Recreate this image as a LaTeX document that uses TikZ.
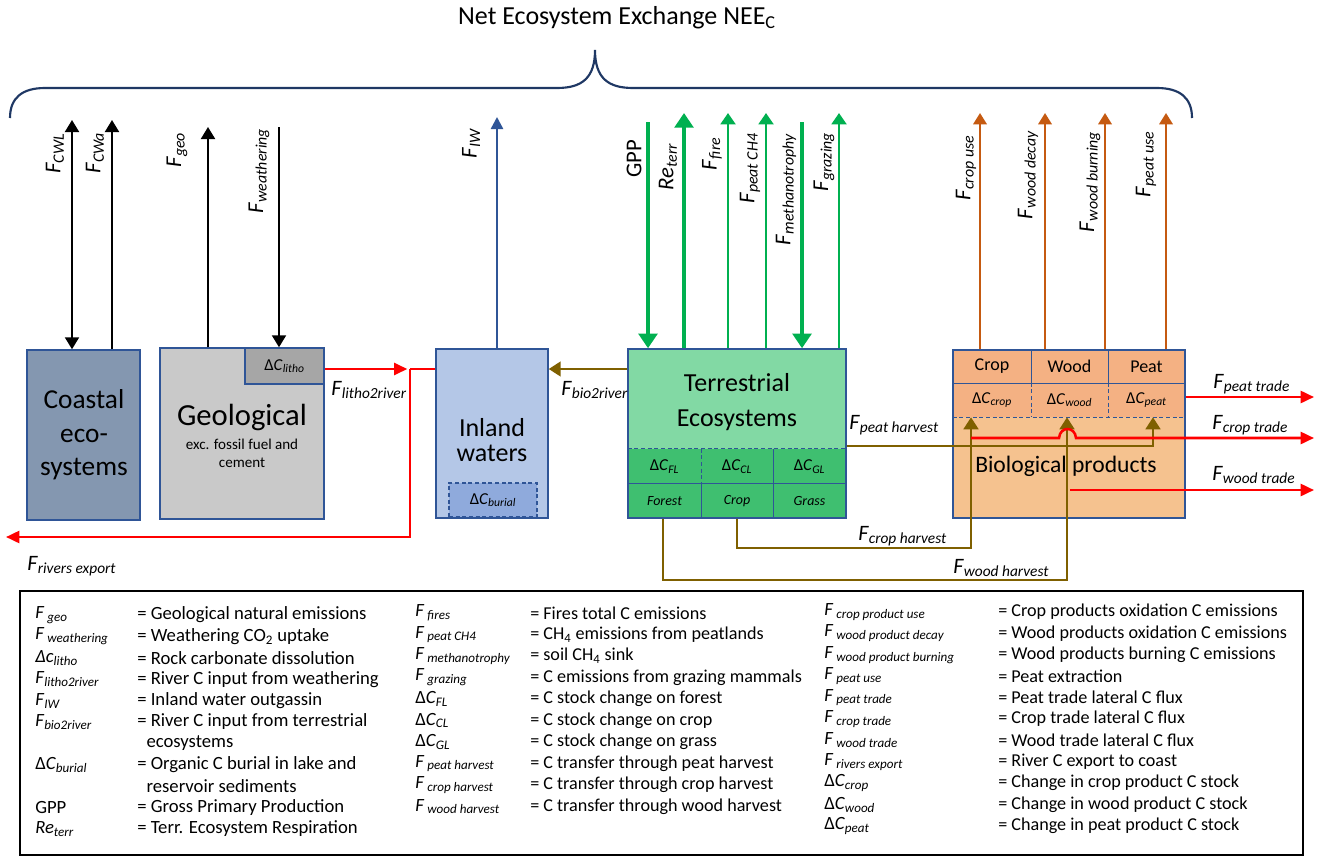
\documentclass[tikz,border=0pt]{standalone}
\usepackage{fontspec}
\setmainfont{Carlito}
\usetikzlibrary{arrows.meta,fit}
\definecolor{navy}{HTML}{1F3864}
\definecolor{bdr}{HTML}{2F5597}
\definecolor{coastc}{HTML}{8497B0}
\definecolor{geoc}{HTML}{C9C9C9}
\definecolor{lithoc}{HTML}{A6A6A6}
\definecolor{inlandc}{HTML}{B4C7E7}
\definecolor{burialc}{HTML}{8FAADC}
\definecolor{terrA}{HTML}{82D9A4}
\definecolor{terrB}{HTML}{3FBF70}
\definecolor{bioA}{HTML}{F4B183}
\definecolor{bioB}{HTML}{F5C28F}
\definecolor{grn}{HTML}{00B050}
\definecolor{orng}{HTML}{C55A11}
\definecolor{rd}{HTML}{FF0000}
\definecolor{brn}{HTML}{7F6000}
\newcommand\Fs[1]{\textit{F}\textsubscript{\textit{#1}}}
\newcommand\Fsp[1]{\textit{F}\,\textsubscript{\textit{#1}}}
\newcommand\Ds[1]{Δ\textit{C}\textsubscript{\textit{#1}}}
\newcommand\fsz[2]{\fontsize{#1}{#2}\selectfont}
\tikzset{
  box/.style={draw=bdr, line width=1.1pt, inner sep=0pt},
  cellf/.style={inner sep=0pt},
  ctxt/.style={inner sep=0pt, font=\fsz{12.5}{15}},
  bline/.style={draw=bdr, line width=1.1pt},
  bdash/.style={draw=bdr, line width=1.1pt, dash pattern=on 3pt off 2pt},
  rot/.style={rotate=90, anchor=east, inner sep=0pt, font=\fsz{17}{20}},
  flab/.style={anchor=west, inner sep=0pt, font=\fsz{16.5}{20}},
  blk/.style={black, line width=1.5pt},
  blktip/.style={-{Triangle[width=10.5pt,length=9pt]}},
  gthick/.style={grn, line width=3.5pt, -{Triangle[width=14pt,length=11pt]}},
  gthin/.style={grn, line width=2.2pt, -{Triangle[width=11pt,length=8.5pt]}},
  oarr/.style={orng, line width=1.8pt, -{Triangle[width=10pt,length=8.5pt]}},
  barr/.style={bdr, line width=1.8pt, -{Triangle[width=9pt,length=9pt]}},
  rline/.style={rd, line width=1.9pt},
  rtip/.style={-{Triangle[width=9pt,length=10pt]}},
  brline/.style={brn, line width=1.9pt},
  brtip/.style={-{Triangle[width=11pt,length=9pt]}},
  lsym/.style={anchor=west, inner sep=0pt, font=\fsz{14}{16}},
  ldesc/.style={anchor=west, inner sep=0pt, font=\fsz{14}{16}},
  ldescb/.style={anchor=west, inner sep=0pt, font=\fsz{13.6}{16}},
}
\begin{document}
\begin{tikzpicture}[x=0.75pt,y=-0.75pt]
\useasboundingbox (0,0) rectangle (1320,856);
\fill[white] (0,0) rectangle (1320,856);

% title and brace
\node[inner sep=0pt, font=\fsz{19.5}{22}] (title) at (617,18) {Net Ecosystem Exchange NEE\textsubscript{C}};
\draw[navy, line width=1.6pt] (10,118) .. controls (10,98) and (22,88) .. (45,88) -- (557,88)
  .. controls (582,88) and (595,78) .. (595,50) .. controls (595,78) and (608,88) .. (633,88)
  -- (1157,88) .. controls (1180,88) and (1192,98) .. (1192,118);

% ---------- boxes ----------
\node[box, fill=coastc, fit={(27,350)(140,520)}] (coast) {};
\node[align=center, inner sep=0pt, font=\fsz{20.5}{25}] (coastt) at (84,435) {Coastal\\eco-\\systems};

\node[box, fill=geoc, fit={(160,348)(324,519)}] (geo) {};
\node[box, fill=lithoc, fit={(245,348)(324,384)}] (litho) {};
\node[ctxt] (lithot) at (litho.center) {\Ds{litho}};
\node[inner sep=0pt, font=\fsz{23}{26}] (geot) at (242,417) {Geological};
\node[align=center, inner sep=0pt, font=\fsz{11.3}{13.5}] (geos) at (242,453) {exc. fossil fuel and\\cement};

\node[box, fill=inlandc, fit={(436,349)(548,518)}] (inland) {};
\node[align=center, inner sep=0pt, font=\fsz{19.5}{19}] (inlandt) at (492,440) {Inland\\waters};
\node[draw=bdr, line width=1.1pt, dash pattern=on 3pt off 2pt, inner sep=0pt, fill=burialc, fit={(449,483)(537,517)}] (burial) {};
\node[ctxt] (burialt) at (burial.center) {\Ds{burial}};

% terrestrial
\node[inner sep=0pt, fill=terrA, fit={(628,349)(846,449)}] (terrtop) {};
\node[cellf, fill=terrB, fit={(628,449)(701,484)}] (dFL) {};
\node[cellf, fill=terrB, fit={(701,449)(773,484)}] (dCL) {};
\node[cellf, fill=terrB, fit={(773,449)(846,484)}] (dGL) {};
\node[cellf, fill=terrB, fit={(628,484)(701,518)}] (forest) {};
\node[cellf, fill=terrB, fit={(701,484)(773,518)}] (cropc) {};
\node[cellf, fill=terrB, fit={(773,484)(846,518)}] (grass) {};
\node[ctxt] (dFLt) at (dFL.center) {\Ds{FL}};
\node[ctxt] (dCLt) at (dCL.center) {\Ds{CL}};
\node[ctxt] (dGLt) at (dGL.center) {\Ds{GL}};
\node[ctxt, font=\fsz{10.5}{12}\itshape] (forestt) at (forest.center) {Forest};
\node[ctxt, font=\fsz{10.5}{12}\itshape] (cropct) at (cropc.center) {Crop};
\node[ctxt, font=\fsz{10.5}{12}\itshape] (grasst) at (grass.center) {Grass};
\draw[bdash] (dFL.north west) -- (dGL.north east);
\draw[bdash] (dFL.north east) -- (dFL.south east);
\draw[bline] (dCL.north east) -- (dCL.south east);
\draw[bline] (forest.north west) -- (grass.north east);
\draw[bline] (forest.north east) -- (forest.south east);
\draw[bline] (cropc.north east) -- (cropc.south east);
\node[box, fit={(628,349)(846,518)}] (terr) {};
\node[align=center, inner sep=0pt, font=\fsz{19.5}{26}] (terrt) at (737,402) {Terrestrial\\Ecosystems};

% biological products
\node[inner sep=0pt, fill=bioB, fit={(953,417)(1185,518)}] (biobot) {};
\node[cellf, fill=bioA, fit={(953,350)(1031,383)}] (pcrop) {};
\node[cellf, fill=bioA, fit={(1031,350)(1108,383)}] (pwood) {};
\node[cellf, fill=bioA, fit={(1108,350)(1185,383)}] (ppeat) {};
\node[cellf, fill=bioA, fit={(953,383)(1031,417)}] (dcrop) {};
\node[cellf, fill=bioA, fit={(1031,383)(1108,417)}] (dwood) {};
\node[cellf, fill=bioA, fit={(1108,383)(1185,417)}] (dpeat) {};
\node[ctxt, font=\fsz{13.5}{15}] (pcropt) at (pcrop.center) {Crop};
\node[ctxt, font=\fsz{13.5}{15}] (pwoodt) at (pwood.center) {Wood};
\node[ctxt, font=\fsz{13.5}{15}] (ppeatt) at (ppeat.center) {Peat};
\node[ctxt] (dcropt) at (dcrop.center) {\Ds{crop}};
\node[ctxt] (dwoodt) at (dwood.center) {\Ds{wood}};
\node[ctxt] (dpeatt) at (dpeat.center) {\Ds{peat}};
\draw[bline] (pcrop.south west) -- (ppeat.south east);
\draw[bline] (pcrop.north east) -- (pcrop.south east);
\draw[bline] (pwood.north east) -- (pwood.south east);
\draw[bdash] (dcrop.north east) -- (dcrop.south east);
\draw[bdash] (dwood.north east) -- (dwood.south east);
\draw[bdash] (dcrop.south west) -- (dpeat.south east);
\node[box, fit={(953,350)(1185,518)}] (bio) {};
\node[inner sep=0pt, font=\fsz{17.7}{20}] (biot) at (1066,466) {Biological products};

% ---------- vertical fluxes ----------
\coordinate (tCWL) at (72,120);
\coordinate (tCWa) at (112,120);
\coordinate (tgeo) at (208,127);
\coordinate (tweat) at (279,127);
\coordinate (tIW) at (497,117);
\draw[blk, {Triangle[width=10.5pt,length=9pt]}-{Triangle[width=10.5pt,length=9pt]}] (tCWL) -- (tCWL |- coast.north);
\draw[blk, blktip] (tCWa |- coast.north) -- (tCWa);
\draw[blk, blktip] (tgeo |- geo.north) -- (tgeo);
\draw[blk, blktip] (tweat) -- (tweat |- litho.north);
\draw[barr] (tIW |- inland.north) -- (tIW);

\coordinate (tGPP) at (648,122);
\coordinate (tRe) at (684,113);
\coordinate (tfire) at (728,113);
\coordinate (tCH4) at (766,113);
\coordinate (tmeth) at (802,122);
\coordinate (tgraz) at (839,113);
\draw[gthick] (tGPP) -- (tGPP |- terr.north);
\draw[gthick] (tRe |- terr.north) -- (tRe);
\draw[gthin] (tfire |- terr.north) -- (tfire);
\draw[gthin] (tCH4 |- terr.north) -- (tCH4);
\draw[gthick] (tmeth) -- (tmeth |- terr.north);
\draw[gthin] (tgraz |- terr.north) -- (tgraz);

\coordinate (tcu) at (980,113);
\coordinate (twd) at (1045,113);
\coordinate (twb) at (1105,113);
\coordinate (tpu) at (1166,113);
\draw[oarr] (tcu |- bio.north) -- (tcu);
\draw[oarr] (twd |- bio.north) -- (twd);
\draw[oarr] (twb |- bio.north) -- (twb);
\draw[oarr] (tpu |- bio.north) -- (tpu);

% rotated labels
\node[rot] (lCWL) at (55,133) {\Fs{CWL}};
\node[rot] (lCWa) at (95,132) {\Fs{CWa}};
\node[rot] (lgeo) at (177,132) {\Fs{geo}};
\node[rot] (lweat) at (259,128) {\Fs{weathering}};
\node[rot] (lIW) at (471,128) {\Fs{IW}};
\node[rot] (lGPP) at (634,140) {GPP};
\node[rot] (lRe) at (668,143) {\textit{Re}\textsubscript{\textit{terr}}};
\node[rot] (lfire) at (712,137) {\Fs{fire}};
\node[rot] (lCH4) at (750,133) {\Fs{peat CH4}};
\node[rot] (lmeth) at (786,133) {\Fs{methanotrophy}};
\node[rot] (lgraz) at (824,132) {\Fs{grazing}};
\node[rot] (lcu) at (966,135) {\Fs{crop use}};
\node[rot] (lwd) at (1028,130) {\Fs{wood decay}};
\node[rot] (lwb) at (1090,131) {\Fs{wood burning}};
\node[rot] (lpu) at (1146,131) {\Fs{peat use}};

% ---------- lateral fluxes ----------
\coordinate (jn) at (410,369);
\coordinate (rexp) at (6,537);
\draw[rline, rtip] (geo.east |- jn) -- ([xshift=-2]jn);
\draw[rline] (jn) -- (inland.west |- jn);
\draw[rline, rtip] (jn) -- (jn |- rexp) -- (rexp);
\draw[brline, brtip] (terr.west |- jn) -- (inland.east |- jn);

% harvests
\coordinate (phx) at (1153,446);
\coordinate (cbase) at (737,548);
\coordinate (chx) at (971,548);
\coordinate (wbase) at (663,580);
\coordinate (whx) at (1067,580);
\draw[brline, brtip] (terr.east |- phx) -- (phx) -- (phx |- dpeat.south);
\draw[brline, brtip] (cbase |- terr.south) -- (cbase) -- (chx) -- (chx |- dcrop.south);
\draw[brline, brtip] (wbase |- terr.south) -- (wbase) -- (whx) -- (whx |- dwood.south);

% trades
\coordinate (ctS) at (971,438);
\coordinate (ctE) at (1314,438);
\coordinate (ptE) at (1314,397);
\coordinate (wtS) at (1070,490);
\coordinate (wtE) at (1314,490);
\draw[rline, rtip] (ctS) -- (1059,438) .. controls (1060,426) and (1075,426) .. (1076,438) -- (ctE);
\draw[rline, rtip] (bio.east |- ptE) -- (ptE);
\draw[rline, rtip] (wtS) -- (wtE);

% flux labels
\node[flab] (llitho) at (331,390) {\Fs{litho2river}};
\node[flab] (lbio) at (561,390) {\Fs{bio2river}};
\node[flab] (lrexp) at (27,566) {\Fs{rivers export}};
\node[flab] (lph) at (849,425) {\Fs{peat harvest}};
\node[flab] (lch) at (858,536) {\Fs{crop harvest}};
\node[flab] (lwh) at (953,568) {\Fs{wood harvest}};
\node[flab] (lpt) at (1213,384) {\Fs{peat trade}};
\node[flab] (lct) at (1212,425) {\Fs{crop trade}};
\node[flab] (lwt) at (1212,475) {\Fs{wood trade}};

% ---------- legend ----------
\node[draw=black, line width=1.6pt, inner sep=0pt, fit={(20,591)(1303,855)}] (legend) {};
\foreach \s/\d [count=\i from 0] in {
  {\Fsp{geo}}/{= Geological natural emissions},
  {\Fsp{weathering}}/{= Weathering CO\textsubscript{2} uptake},
  {\textit{Δc}\textsubscript{\textit{litho}}}/{= Rock carbonate dissolution},
  {\Fs{litho2river}}/{= River C input from weathering},
  {\Fs{IW}}/{= Inland water outgassin},
  {\Fs{bio2river}}/{= River C input from terrestrial},
  {}/{\hspace*{7pt}ecosystems},
  {\Ds{burial}}/{= Organic C burial in lake and},
  {}/{\hspace*{7pt}reservoir sediments},
  {GPP}/{= Gross Primary Production},
  {\textit{Re}\textsubscript{\textit{terr}}}/{= Terr. Ecosystem Respiration}}
{
  \node[lsym] (la\i) at (35,{615+21.4*\i}) {\s};
  \node[ldesc] (lad\i) at (137,{615+21.4*\i}) {\d};
}
\foreach \s/\d [count=\i from 0] in {
  {\Fsp{fires}}/{= Fires total C emissions},
  {\Fsp{peat CH4}}/{= CH\textsubscript{4} emissions from peatlands},
  {\Fsp{methanotrophy}}/{= soil CH\textsubscript{4} sink},
  {\Fsp{grazing}}/{= C emissions from grazing mammals},
  {\Ds{FL}}/{= C stock change on forest},
  {\Ds{CL}}/{= C stock change on crop},
  {\Ds{GL}}/{= C stock change on grass},
  {\Fsp{peat harvest}}/{= C transfer through peat harvest},
  {\Fsp{crop harvest}}/{= C transfer through crop harvest},
  {\Fsp{wood harvest}}/{= C transfer through wood harvest}}
{
  \node[lsym] (lb\i) at (415,{613+21.5*\i}) {\s};
  \node[ldescb] (lbd\i) at (530,{613+21.5*\i}) {\d};
}
\foreach \s/\d [count=\i from 0] in {
  {\Fsp{crop product use}}/{= Crop products oxidation C emissions},
  {\Fsp{wood product decay}}/{= Wood products oxidation C emissions},
  {\Fsp{wood product burning}}/{= Wood products burning C emissions},
  {\Fsp{peat use}}/{= Peat extraction},
  {\Fsp{peat trade}}/{= Peat trade lateral C flux},
  {\Fsp{crop trade}}/{= Crop trade lateral C flux},
  {\Fsp{wood trade}}/{= Wood trade lateral C flux},
  {\Fsp{rivers export}}/{= River C export to coast},
  {\Ds{crop}}/{= Change in crop product C stock},
  {\Ds{wood}}/{= Change in wood product C stock},
  {\Ds{peat}}/{= Change in peat product C stock}}
{
  \node[lsym] (lc\i) at (824,{612+21.4*\i}) {\s};
  \node[ldescb] (lcd\i) at (998,{612+21.4*\i}) {\d};
}
\end{tikzpicture}
\end{document}
